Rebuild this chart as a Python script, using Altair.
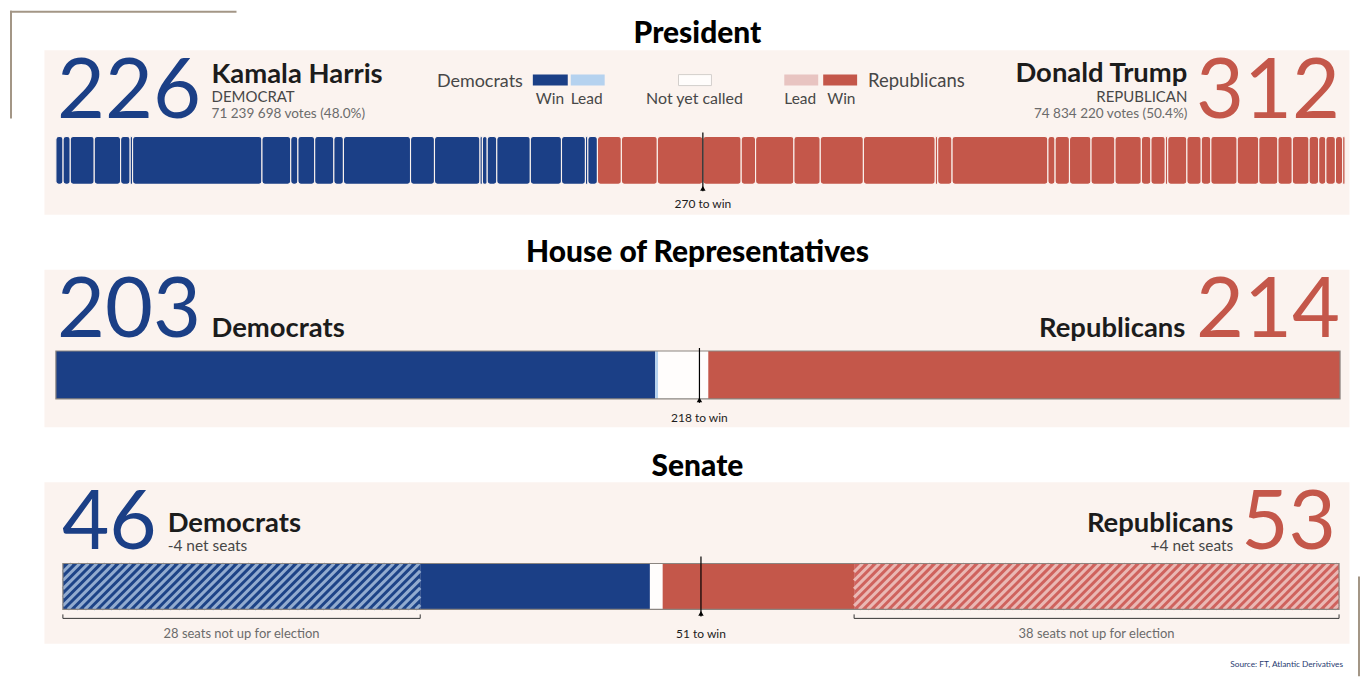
import altair as alt
import pandas as pd

# ---------------- data ----------------
pres_dem_ev = [3, 3, 10, 11, 4, 1, 54, 12, 3, 7, 8, 4, 28, 10, 19, 1, 2, 4, 14, 13, 10, 1, 4]
pres_rep_ev = [10, 15, 19, 16, 6, 16, 11, 18, 30, 1, 6, 40, 3, 6, 9, 10, 11, 4, 6, 1, 8, 6, 4,
               11, 9, 8, 6, 7, 4, 3, 4, 3, 1]
pres_total = 538
pres_win = 270
pres_names = ["Kamala Harris", "Donald Trump"]
pres_parties = ["DEMOCRAT", "REPUBLICAN"]
pres_votes = ["71 239 698 votes (48.0%)", "74 834 220 votes (50.4%)"]
pres_ev = [226, 312]

house_groups = ["Dem win", "Dem lead", "Not yet called", "Rep lead", "Rep win"]
house_seats = [203, 1, 17, 0, 214]
house_total = 435
house_win = 218
house_labels = ["Democrats", "Republicans"]
house_totals = [203, 214]

senate_groups = ["Dem not up", "Dem win", "Not yet called", "Rep win", "Rep not up"]
senate_seats = [28, 18, 1, 15, 38]
senate_total = 100
senate_win = 51
senate_line = 50
senate_totals = [46, 53]
senate_net = ["-4 net seats", "+4 net seats"]

source_text = "Source: FT, Atlantic Derivatives"

# ---------------- style ----------------
BG = "#fbf3ef"
BLUE = "#1b3f86"
RED = "#c4574a"
LBLUE = "#b5d2ef"
LRED = "#e8c4c1"
WHITE = "#fffdfc"
DARK = "#1c1c1c"
GREY = "#474747"
LGREY = "#6b6b6b"
DECOR = "#a39686"
HB_BASE, HB_STRIPE = "#1d4387", "#92abcf"
HR_BASE, HR_STRIPE = "#cf625d", "#eab8b4"
FONT = "Lato"
W = 1308
NAME = 27.5
TITLE = 30

group_colors = {"Dem win": BLUE, "Dem lead": LBLUE, "Not yet called": WHITE,
                "Rep lead": LRED, "Rep win": RED,
                "Dem not up": HB_BASE, "Rep not up": HR_BASE}

one = pd.DataFrame({"k": [0]})


def xscale(total, left_px, right_px):
    ppu = (right_px - left_px) / total
    return alt.Scale(domain=[-left_px / ppu, total + (W - right_px) / ppu], nice=False, zero=False), ppu


def T(text, x, y, size, color=DARK, weight="normal", align="left", xs=None, font=FONT):
    if xs is None:
        xenc = alt.value(x)
    else:
        xenc = alt.XDatum(x, type="quantitative", scale=xs, axis=None)
    return alt.Chart(one).mark_text(align=align, baseline="alphabetic", fontSize=size, font=font,
                                    fontWeight=weight, color=color).encode(
        x=xenc, y=alt.value(y), text=alt.value(text))


def R(x, x2, y, y2=None, color=DECOR, width=2):
    enc = dict(x=alt.value(x), y=alt.value(y))
    if x2 is not None:
        enc["x2"] = alt.value(x2)
    if y2 is not None:
        enc["y2"] = alt.value(y2)
    return alt.Chart(one).mark_rule(color=color, strokeWidth=width).encode(**enc)


def box(x, x2, y, y2, fill, stroke=None):
    kw = dict(color=fill)
    if stroke:
        kw.update(stroke=stroke, strokeWidth=1)
    return alt.Chart(one).mark_rect(**kw).encode(x=alt.value(x), x2=alt.value(x2),
                                                  y=alt.value(y), y2=alt.value(y2))


def win_marker(value, xs, y_top, y_bot, y_tri, y_text, label):
    xd = alt.XDatum(value, type="quantitative", scale=xs, axis=None)
    rule = alt.Chart(one).mark_rule(color="black", strokeWidth=1.2).encode(
        x=xd, y=alt.value(y_top), y2=alt.value(y_bot))
    tri = alt.Chart(one).mark_point(shape="triangle-up", filled=True, size=30, color="black",
                                    opacity=1).encode(x=xd, y=alt.value(y_tri))
    txt = T(label, value, y_text, 12, color=DARK, align="center", xs=xs)
    return [rule, tri, txt]


def segments(values, groups):
    rows, c = [], 0
    for v, g in zip(values, groups):
        rows.append(dict(start=c, end=c + v, group=g, col=group_colors[g]))
        c += v
    return pd.DataFrame(rows)


# ---------------- President ----------------
xs_p, ppu_p = xscale(pres_total, 12, 1304)
pres_df = segments(pres_dem_ev + pres_rep_ev,
                   ["Dem win"] * len(pres_dem_ev) + ["Rep win"] * len(pres_rep_ev))
pres_bar = alt.Chart(pres_df).mark_rect(cornerRadius=3, stroke=BG, strokeWidth=1.1).encode(
    x=alt.X("start:Q", scale=xs_p, axis=None), x2="end:Q",
    y=alt.value(87), y2=alt.value(135),
    color=alt.Color("col:N", scale=None))

p1_layers = [pres_bar]
p1_layers += win_marker(pres_win, xs_p, 83, 142, 139, 159, f"{pres_win} to win")
p1_layers += [
    T("President", 655, -7, TITLE, "black", 900, align="center"),
    T(str(pres_ev[0]), 13, 68, 83, BLUE),
    T(pres_names[0], 168, 33, NAME, DARK, "bold"),
    T(pres_parties[0], 168, 52, 15, GREY),
    T(pres_votes[0], 168, 69, 13.6, LGREY),
    T(str(pres_ev[1]), 1299, 68, 83, RED, align="right"),
    T(pres_names[1], 1146, 32, NAME, DARK, "bold", align="right"),
    T(pres_parties[1], 1146, 52, 15, GREY, align="right"),
    T(pres_votes[1], 1146, 69, 13.6, LGREY, align="right"),
    # legend
    T("Democrats", 480, 37, 18, GREY, align="right"),
    box(490, 525, 25, 36, BLUE), box(528, 562, 25, 36, LBLUE),
    T("Win", 493, 54, 15.5, GREY), T("Lead", 528, 54, 15.5, GREY),
    box(636, 669, 25, 36, WHITE, stroke="#d3cfcc"),
    T("Not yet called", 652, 54, 16, GREY, align="center"),
    box(742, 776, 25, 36, LRED), box(781, 815, 25, 36, RED),
    T("Lead", 742, 54, 15.5, GREY), T("Win", 785, 54, 15.5, GREY),
    T("Republicans", 826, 37, 18.5, GREY),
    # decorative frame lines (top-left)
    R(-34, 193, -38), R(-33, None, -39, 69),
]
p1 = alt.layer(*p1_layers).properties(width=W, height=165)

# ---------------- House ----------------
xs_h, ppu_h = xscale(house_total, 12, 1299)
house_df = segments(house_seats, house_groups)
house_df = house_df[house_df["end"] > house_df["start"]]
house_bar = alt.Chart(house_df).mark_rect().encode(
    x=alt.X("start:Q", scale=xs_h, axis=None), x2="end:Q",
    y=alt.value(82), y2=alt.value(130),
    color=alt.Color("col:N", scale=None))
house_frame = alt.Chart(pd.DataFrame({"s": [0], "e": [house_total]})).mark_rect(
    fillOpacity=0, stroke="#8b8580", strokeWidth=1.2).encode(
    x=alt.X("s:Q", scale=xs_h, axis=None), x2="e:Q", y=alt.value(82), y2=alt.value(130))
p2_layers = [house_bar, house_frame]
p2_layers += win_marker(house_win, xs_h, 79, 134, 131, 153, f"{house_win} to win")
p2_layers += [
    T("House of Representatives", 655, -7, TITLE, "black", 900, align="center"),
    T(str(house_totals[0]), 13, 68, 83, BLUE),
    T(house_labels[0], 168, 68, NAME, DARK, "bold"),
    T(house_labels[1], 1144, 68, NAME, DARK, "bold", align="right"),
    T(str(house_totals[1]), 1299, 68, 83, RED, align="right"),
]
p2 = alt.layer(*p2_layers).properties(width=W, height=158)

# ---------------- Senate ----------------
xs_s, ppu_s = xscale(senate_total, 19, 1298)
ys_s = alt.Scale(domain=[-34 / 46, 128 / 46], nice=False, zero=False)
sen_df = segments(senate_seats, senate_groups)
sen_bar = alt.Chart(sen_df).mark_rect().encode(
    x=alt.X("start:Q", scale=xs_s, axis=None), x2="end:Q",
    y=alt.value(82), y2=alt.value(128),
    color=alt.Color("col:N", scale=None))


def stripes(a, b, color, height_px=46, spacing_px=8.5):
    d = height_px / ppu_s
    s = spacing_px / ppu_s
    rows = []
    x0 = a - d
    while x0 < b:
        xs_, xe = max(x0, a), min(x0 + d, b)
        if xe > xs_:
            rows.append(dict(x0=xs_, y0=(xs_ - x0) / d, x1=xe, y1=(xe - x0) / d, col=color))
        x0 += s
    return pd.DataFrame(rows)


cum = [0]
for v in senate_seats:
    cum.append(cum[-1] + v)
hatch_df = pd.concat([stripes(cum[0], cum[1], HB_STRIPE), stripes(cum[4], cum[5], HR_STRIPE)])
sen_hatch = alt.Chart(hatch_df).mark_rule(strokeWidth=3.1, strokeCap="butt").encode(
    x=alt.X("x0:Q", scale=xs_s, axis=None), x2="x1:Q",
    y=alt.Y("y0:Q", scale=ys_s, axis=None), y2="y1:Q",
    color=alt.Color("col:N", scale=None))
sen_frame = alt.Chart(pd.DataFrame({"s": [0], "e": [senate_total]})).mark_rect(
    fillOpacity=0, stroke="#8b8580", strokeWidth=1.2).encode(
    x=alt.X("s:Q", scale=xs_s, axis=None), x2="e:Q", y=alt.value(82), y2=alt.value(128))

brk_df = pd.DataFrame({"s": [cum[0], cum[4]], "e": [cum[1], cum[5]]})
brk_line = alt.Chart(brk_df).mark_rule(color="#333333", strokeWidth=1).encode(
    x=alt.X("s:Q", scale=xs_s, axis=None), x2="e:Q", y=alt.value(137))
tick_df = pd.DataFrame({"p": [cum[0], cum[1], cum[4], cum[5]]})
brk_ticks = alt.Chart(tick_df).mark_rule(color="#333333", strokeWidth=1).encode(
    x=alt.X("p:Q", scale=xs_s, axis=None), y=alt.value(133), y2=alt.value(137))

p3_layers = [sen_bar, sen_hatch, sen_frame, brk_line, brk_ticks]
p3_layers += win_marker(senate_line, xs_s, 75, 135, 132, 157, f"{senate_win} to win")
p3_layers += [
    T("Senate", 655, -6, TITLE, "black", 900, align="center"),
    T(str(senate_totals[0]), 18, 67, 82, BLUE),
    T("Democrats", 124, 50, NAME, DARK, "bold"),
    T(senate_net[0], 124, 69, 15.5, GREY),
    T("Republicans", 1192, 50, NAME, DARK, "bold", align="right"),
    T(senate_net[1], 1192, 69, 15.5, GREY, align="right"),
    T(str(senate_totals[1]), 1295, 67, 82, RED, align="right"),
    T(f"{senate_seats[0]} seats not up for election", (cum[0] + cum[1]) / 2, 157, 13, LGREY,
      align="center", xs=xs_s),
    T(f"{senate_seats[4]} seats not up for election", (cum[4] + cum[5]) / 2, 157, 13, LGREY,
      align="center", xs=xs_s),
    T(source_text, 1302, 186, 8.3, "#1f3b70", align="right"),
    R(1318, None, 95, 195),
]
p3 = alt.layer(*p3_layers).properties(width=W, height=162)

chart = alt.vconcat(p1, p2, p3, spacing=55, bounds="flush").configure_view(
    fill=BG, stroke="transparent").properties(padding=0, background="white")

chart.save("out.html", embed_options={"renderer": "svg", "actions": False})
